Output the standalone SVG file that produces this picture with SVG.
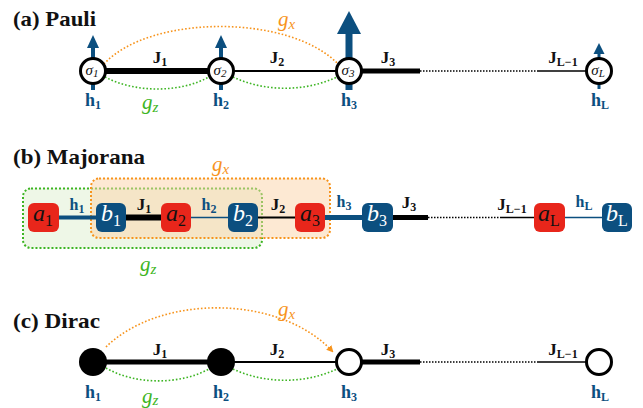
<svg xmlns="http://www.w3.org/2000/svg" width="643" height="408" viewBox="0 0 643 408" font-family="'Liberation Serif', 'DejaVu Serif', serif">
<defs>
<style>
text{font-family:'Liberation Serif','DejaVu Serif',serif}
.title{font-size:21px;font-weight:bold;fill:#111}
.J{font-size:17px;font-weight:bold;fill:#111;text-anchor:middle}
.h{font-size:18px;font-weight:bold;fill:#0c4f7f;text-anchor:middle}
.hb{font-size:16px;font-weight:bold;fill:#0c4f7f;text-anchor:middle}
.sub{font-size:12px}
.gx{font-size:21px;font-style:italic;fill:#f7941d}
.gz{font-size:21px;font-style:italic;fill:#3db523}
.sig{font-size:15px;font-style:italic;fill:#111;text-anchor:middle}
.ma{font-size:24px;font-style:italic;fill:#111;text-anchor:middle}
.mb{font-size:24px;font-style:italic;fill:#fff;text-anchor:middle}
.msub{font-size:16px;font-style:normal}
.node{fill:#fff;stroke:#000;stroke-width:3}
.dnode{fill:#000}
.bond{stroke:#000;fill:none}
.dots{stroke:#000;stroke-width:1.5;stroke-dasharray:1.5 1.5;fill:none}
.gxc{stroke:#f7941d;stroke-width:1.6;stroke-dasharray:1.6 2;fill:none}
.gzc{stroke:#3db523;stroke-width:1.6;stroke-dasharray:1.6 2;fill:none}
.arr{fill:#0c4f7f}
.ra{fill:#e8261b}
.bb{fill:#0c4f7f}
</style>
<marker id="ah" viewBox="0 0 10 10" refX="9" refY="5" markerWidth="7" markerHeight="7" orient="auto" markerUnits="userSpaceOnUse">
<path d="M0,0 L10,5 L0,10 z" fill="#f7941d"/>
</marker>
</defs>

<!-- Panel a -->
<text class="title" x="13" y="26" textLength="83" lengthAdjust="spacingAndGlyphs">(a) Pauli</text>
<g id="connectors-a">
<line class="bond" x1="93" y1="71" x2="221" y2="71" stroke-width="6"/>
<line class="bond" x1="221" y1="71" x2="349" y2="71" stroke-width="2"/>
<line class="bond" x1="349" y1="71" x2="420" y2="71" stroke-width="5"/>
<line class="dots" x1="420" y1="71" x2="537" y2="71"/>
<line class="bond" x1="537" y1="71" x2="599" y2="71" stroke-width="1.5" stroke="#333"/>
<path class="gxc" d="M104,64 C150,14 290,14 338,64"/>
<path class="gzc" d="M105,77 C135,93 180,93 209,77"/>
<path class="gzc" d="M233,77 C265,92 305,92 337,77"/>
<text class="J" x="160" y="63">J<tspan class="sub" dy="3">1</tspan></text>
<text class="J" x="277" y="63">J<tspan class="sub" dy="3">2</tspan></text>
<text class="J" x="388" y="63">J<tspan class="sub" dy="3">3</tspan></text>
<text class="J" x="563" y="63">J<tspan class="sub" dy="3">L−1</tspan></text>
<text class="gx" x="278" y="26">g<tspan dy="3" font-size="15">x</tspan></text>
<text class="gz" x="142" y="109">g<tspan dy="3" font-size="15">z</tspan></text>
</g>
<g id="sigma1">
<rect class="arr" x="91" y="47" width="4" height="43"/>
<polygon class="arr" points="87,48 99,48 93,35"/>
<circle class="node" cx="93" cy="71" r="12.5"/>
<text class="sig" x="92" y="75">σ<tspan font-size="11" dy="2">1</tspan></text>
<text class="h" x="93" y="106">h<tspan class="sub" dy="3">1</tspan></text>
</g>
<g id="sigma2">
<rect class="arr" x="219" y="47" width="4" height="43"/>
<polygon class="arr" points="215,48 227,48 221,35"/>
<circle class="node" cx="221" cy="71" r="12.5"/>
<text class="sig" x="220" y="75">σ<tspan font-size="11" dy="2">2</tspan></text>
<text class="h" x="221" y="106">h<tspan class="sub" dy="3">2</tspan></text>
</g>
<g id="sigma3">
<rect class="arr" x="345.5" y="32" width="7" height="58"/>
<polygon class="arr" points="337,34 361,34 349,11"/>
<circle class="node" cx="349" cy="71" r="12.5"/>
<text class="sig" x="348" y="75">σ<tspan font-size="11" dy="2">3</tspan></text>
<text class="h" x="349" y="106">h<tspan class="sub" dy="3">3</tspan></text>
</g>
<g id="sigmaL">
<rect class="arr" x="597.5" y="52" width="3" height="37"/>
<polygon class="arr" points="593.5,54 604.5,54 599,43"/>
<circle class="node" cx="599" cy="71" r="12.5"/>
<text class="sig" x="598" y="75">σ<tspan font-size="11" dy="2">L</tspan></text>
<text class="h" x="600" y="106">h<tspan class="sub" dy="3">L</tspan></text>
</g>

<!-- Panel b -->
<text class="title" x="13" y="164" textLength="132" lengthAdjust="spacingAndGlyphs">(b) Majorana</text>
<g id="groups-b">
<rect x="23" y="188.5" width="239" height="59.5" rx="8" fill="#d9eec9" fill-opacity="0.45" stroke="#3db523" stroke-width="2" stroke-dasharray="2 2"/>
<rect x="91" y="178.5" width="239" height="59.5" rx="8" fill="#fbd3a8" fill-opacity="0.5" stroke="#f7941d" stroke-width="2" stroke-dasharray="2 2"/>
<text class="gx" x="212" y="171">g<tspan dy="3" font-size="15">x</tspan></text>
<text class="gz" x="140" y="271">g<tspan dy="3" font-size="15">z</tspan></text>
</g>
<g id="connectors-b">
<line x1="59" y1="217.5" x2="96" y2="217.5" stroke="#0c4f7f" stroke-width="4"/>
<line class="bond" x1="126" y1="217.5" x2="161" y2="217.5" stroke-width="6"/>
<line x1="191" y1="217.5" x2="228" y2="217.5" stroke="#0c4f7f" stroke-width="1.5"/>
<line class="bond" x1="258" y1="217.5" x2="295" y2="217.5" stroke-width="2"/>
<line x1="325" y1="217.5" x2="362" y2="217.5" stroke="#0c4f7f" stroke-width="5"/>
<line class="bond" x1="393" y1="217.5" x2="428" y2="217.5" stroke-width="5"/>
<line class="dots" x1="428" y1="217.5" x2="500" y2="217.5"/>
<line class="bond" x1="500" y1="217.5" x2="534" y2="217.5" stroke-width="1.5" stroke="#333"/>
<line x1="565" y1="217.5" x2="602" y2="217.5" stroke="#0c4f7f" stroke-width="1.5"/>
<text class="hb" x="77" y="210">h<tspan class="sub" dy="3">1</tspan></text>
<text class="J" x="144" y="210">J<tspan class="sub" dy="3">1</tspan></text>
<text class="hb" x="209" y="210">h<tspan class="sub" dy="3">2</tspan></text>
<text class="J" x="278" y="210">J<tspan class="sub" dy="3">2</tspan></text>
<text class="hb" x="344" y="207">h<tspan class="sub" dy="3">3</tspan></text>
<text class="J" x="409" y="208">J<tspan class="sub" dy="3">3</tspan></text>
<text class="J" x="512" y="210">J<tspan class="sub" dy="3">L−1</tspan></text>
<text class="hb" x="584" y="207">h<tspan class="sub" dy="3">L</tspan></text>
</g>
<g id="a1"><rect class="ra" x="28" y="203" width="31" height="29" rx="6"/><text class="ma" x="43" y="221">a<tspan class="msub" dy="5">1</tspan></text></g>
<g id="b1"><rect class="bb" x="96" y="203" width="30" height="29" rx="6"/><text class="mb" x="111" y="221">b<tspan class="msub" dy="5">1</tspan></text></g>
<g id="a2"><rect class="ra" x="161" y="203" width="30" height="29" rx="6"/><text class="ma" x="176" y="221">a<tspan class="msub" dy="5">2</tspan></text></g>
<g id="b2"><rect class="bb" x="228" y="203" width="30" height="29" rx="6"/><text class="mb" x="243" y="221">b<tspan class="msub" dy="5">2</tspan></text></g>
<g id="a3"><rect class="ra" x="295" y="203" width="30" height="29" rx="6"/><text class="ma" x="310" y="221">a<tspan class="msub" dy="5">3</tspan></text></g>
<g id="b3"><rect class="bb" x="362" y="203" width="31" height="29" rx="6"/><text class="mb" x="377" y="221">b<tspan class="msub" dy="5">3</tspan></text></g>
<g id="aL"><rect class="ra" x="534" y="203" width="31" height="29" rx="6"/><text class="ma" x="549" y="221">a<tspan class="msub" dy="5" font-style="italic">L</tspan></text></g>
<g id="bL"><rect class="bb" x="602" y="203" width="30" height="29" rx="6"/><text class="mb" x="617" y="221">b<tspan class="msub" dy="5" font-style="italic">L</tspan></text></g>

<!-- Panel c -->
<text class="title" x="13" y="328" textLength="87" lengthAdjust="spacingAndGlyphs">(c) Dirac</text>
<g id="connectors-c">
<line class="bond" x1="93" y1="362" x2="221" y2="362" stroke-width="5"/>
<line class="bond" x1="221" y1="362" x2="349" y2="362" stroke-width="2"/>
<line class="bond" x1="349" y1="362" x2="420" y2="362" stroke-width="5"/>
<line class="dots" x1="420" y1="362" x2="537" y2="362"/>
<line class="bond" x1="537" y1="362" x2="599" y2="362" stroke-width="1.5" stroke="#333"/>
<path class="gxc" d="M106,347 C160,294 280,294 333,352" marker-end="url(#ah)"/>
<path class="gzc" d="M106,368 C135,385 180,385 209,369"/>
<path class="gzc" d="M233,369 C265,384 305,384 337,369"/>
<text class="J" x="160" y="355">J<tspan class="sub" dy="3">1</tspan></text>
<text class="J" x="277" y="355">J<tspan class="sub" dy="3">2</tspan></text>
<text class="J" x="388" y="355">J<tspan class="sub" dy="3">3</tspan></text>
<text class="J" x="563" y="355">J<tspan class="sub" dy="3">L−1</tspan></text>
<text class="gx" x="278" y="316">g<tspan dy="3" font-size="15">x</tspan></text>
<text class="gz" x="142" y="403">g<tspan dy="2" font-size="15">z</tspan></text>
</g>
<g id="d1"><circle class="dnode" cx="93" cy="362" r="14"/><text class="h" x="93" y="398">h<tspan class="sub" dy="3">1</tspan></text></g>
<g id="d2"><circle class="dnode" cx="221" cy="362" r="14"/><text class="h" x="221" y="398">h<tspan class="sub" dy="3">2</tspan></text></g>
<g id="d3"><circle class="node" cx="349" cy="362" r="12.5"/><text class="h" x="349" y="398">h<tspan class="sub" dy="3">3</tspan></text></g>
<g id="dL"><circle class="node" cx="599" cy="362" r="12.5"/><text class="h" x="600" y="398">h<tspan class="sub" dy="3">L</tspan></text></g>
</svg>
